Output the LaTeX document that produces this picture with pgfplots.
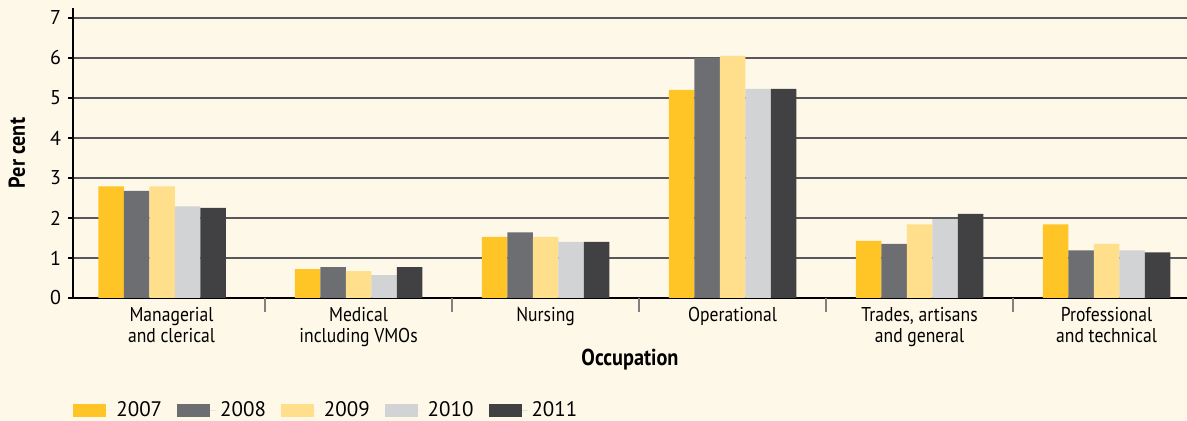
\documentclass[border=0pt]{standalone}
\usepackage{fontspec}
\setmainfont{PT Sans}
\newfontfamily\cond{PT Sans}[FakeStretch=0.88]
\usepackage{pgfplots}
\pgfplotsset{compat=1.18}
\definecolor{bg}{HTML}{FEF8E8}
\definecolor{c07}{HTML}{FFC425}
\definecolor{c08}{HTML}{6D6E71}
\definecolor{c09}{HTML}{FFDF8C}
\definecolor{c10}{HTML}{D1D3D4}
\definecolor{c11}{HTML}{414042}
\definecolor{gridc}{HTML}{58585A}
\pgfplotsset{mylegend/.style={legend image code/.code={\fill[##1] (0pt,-3.25pt) rectangle (16.5pt,3.25pt); \path (0pt,0pt) -- (19.5pt,0pt);}}}
\begin{document}
\begin{tikzpicture}
\fill[bg] (-36.5pt,-61.5pt) rectangle (557pt,149pt);
\begin{axis}[
  at={(0,0)}, anchor=south west,
  scale only axis, width=557pt, height=145pt,
  xmin=-0.527, xmax=5.43, ymin=0, ymax=7.25,
  axis x line*=bottom, axis y line*=left,
  x axis line style={black, line width=1pt, -},
  y axis line style={black, line width=0.75pt, -},
  ybar=0pt, bar width=12.75pt,
  ytick={0,...,7}, ymajorgrids,
  grid style={gridc, line width=0.75pt},
  tick align=outside, major tick length=2.5pt,
  y tick style={black, line width=0.75pt},
  xtick={0,...,5},
  xticklabels={Managerial\\and clerical, Medical\\including VMOs, Nursing, Operational, {Trades, artisans\\and general}, Professional\\and technical},
  major x tick style={draw=none},
  extra x ticks={0.5,1.5,2.5,3.5,4.5},
  extra x tick labels={},
  extra x tick style={grid=none, major tick length=7pt, major x tick style={draw=gray, line width=0.75pt}},
  every tick label/.append style={font=\fontsize{10}{10.5}\selectfont, text=black},
  x tick label style={align=center, anchor=north, yshift=1.5pt, font=\cond\fontsize{10}{10.5}\selectfont},
  /pgf/number format/assume math mode=true,
  ylabel={\bfseries Per cent},
  ylabel style={at={(axis description cs:-0.0503,0.5)}, anchor=center, font=\cond\fontsize{11.5}{12}\selectfont},
  xlabel={\bfseries Occupation},
  xlabel style={at={(axis description cs:0.5,0)}, anchor=center, yshift=-31pt, font=\cond\fontsize{11.5}{12}\selectfont},
  legend style={at={(axis description cs:0,0)}, anchor=west, yshift=-56.5pt, xshift=-3pt, draw=none, fill=none,
    legend columns=5, font=\fontsize{10.5}{11}\selectfont,
    /tikz/every even column/.append style={column sep=5.5pt}},
]
\addplot[fill=c07, draw=none, mylegend] coordinates {(-0.05,2.79) (1,0.72) (2,1.53) (3,5.2) (4,1.43) (5,1.84)};
\addplot[fill=c08, draw=none, mylegend] coordinates {(-0.05,2.68) (1,0.77) (2,1.64) (3,6.0) (4,1.35) (5,1.19)};
\addplot[fill=c09, draw=none, mylegend] coordinates {(-0.05,2.79) (1,0.67) (2,1.53) (3,6.05) (4,1.84) (5,1.35)};
\addplot[fill=c10, draw=none, mylegend] coordinates {(-0.05,2.29) (1,0.57) (2,1.40) (3,5.23) (4,1.97) (5,1.19)};
\addplot[fill=c11, draw=none, mylegend] coordinates {(-0.05,2.25) (1,0.77) (2,1.40) (3,5.23) (4,2.10) (5,1.14)};
\legend{2007,2008,2009,2010,2011}
\end{axis}
\pgfresetboundingbox
\useasboundingbox (-36.5pt,-61.5pt) rectangle (557pt,149pt);
\end{tikzpicture}
\end{document}
